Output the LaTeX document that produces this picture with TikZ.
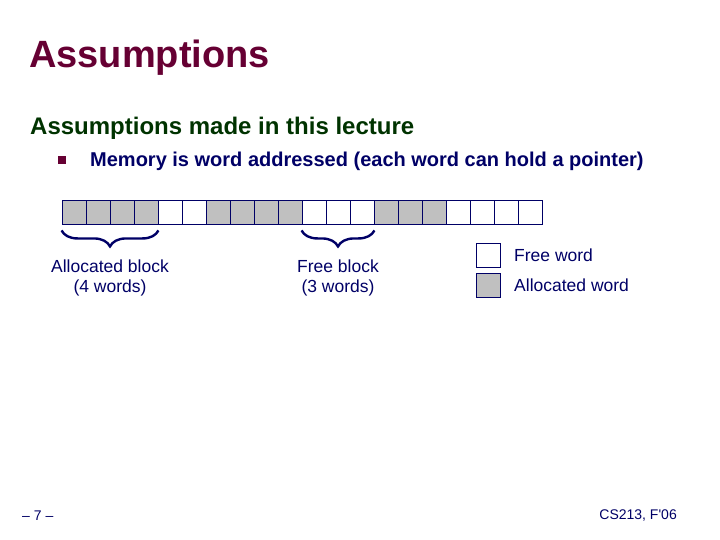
\documentclass[tikz,border=0pt]{standalone}
\usepackage{fontspec}
\setmainfont{Liberation Sans}
\usetikzlibrary{positioning, decorations.pathreplacing}
\definecolor{titlered}{HTML}{660033}
\definecolor{subgreen}{HTML}{003300}
\definecolor{navy}{HTML}{000066}
\definecolor{wordgray}{HTML}{C0C0C0}

\begin{document}
\begin{tikzpicture}[x=1pt, y=-1pt,
        word/.style = {draw=navy, line width=0.9pt, minimum size=24pt, inner sep=0pt},
        alloc/.style = {word, fill=wordgray},
        free/.style = {word, fill=white},
        blockbrace/.style = {draw=navy, line width=2.4pt, decorate,
                decoration={brace, mirror, amplitude=16pt}},
        lbl/.style = {text=navy, font=\fontsize{17.5}{20}\selectfont, inner sep=0pt}]
        \useasboundingbox (0,0) rectangle (720,540);
        % heading
        \node[anchor=base west, inner sep=0pt, text=titlered,
                font=\fontsize{38}{44}\selectfont\bfseries] (title) at (29,68) {Assumptions};
        \node[anchor=base west, inner sep=0pt, text=subgreen,
                font=\fontsize{24}{28}\selectfont\bfseries] (sub) at (30,135) {Assumptions made in this lecture};
        \node[fill=titlered, minimum size=8pt, inner sep=0pt] (bul) at (62,160) {};
        \node[anchor=base west, inner sep=0pt, text=navy,
                font=\fontsize{20}{24}\selectfont\bfseries] (point) at (90,167)
                {Memory is word addressed (each word can hold a pointer)};
        % memory words
        \foreach \i in {0,...,19} {
                \pgfmathtruncatemacro{\isalloc}{(\i<4) || (\i>5 && \i<10) || (\i>12 && \i<16)}
                \ifnum\isalloc=1
                        \node[alloc] (c\i) at (74+24*\i,212) {};
                \else
                        \node[free] (c\i) at (74+24*\i,212) {};
                \fi
        }
        % braces
        \draw[blockbrace] ([yshift=-6pt]c0.south west) -- node[lbl, below=28pt, align=center]
                (ablock) {Allocated block\\(4 words)} ([yshift=-6pt]c3.south east);
        \draw[blockbrace] ([yshift=-6pt]c10.south west) -- node[lbl, below=28pt, align=center]
                (fblock) {Free block\\(3 words)} ([yshift=-6pt]c12.south east);
        % legend
        \node[free] (freebox) at (488,255) {};
        \node[alloc] (allocbox) [below=6pt of freebox] {};
        \node[lbl, anchor=west] (freetxt) at (514,255) {Free word};
        \node[lbl, anchor=west] (alloctxt) at (514,285) {Allocated word};
        % footer
        \node[anchor=base west, inner sep=0pt, text=navy, font=\fontsize{14}{16}\selectfont]
                (page) at (22,520) {– 7 –};
        \node[anchor=base east, inner sep=0pt, text=navy, font=\fontsize{14}{16}\selectfont]
                (course) at (677,519) {CS213, F\textquotesingle 06};
\end{tikzpicture}
\end{document}
